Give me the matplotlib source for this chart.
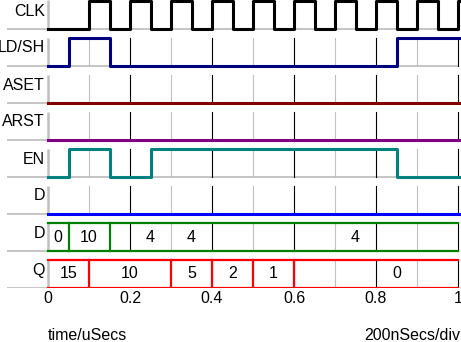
import matplotlib
matplotlib.use("Agg")
import matplotlib.pyplot as plt

plt.rcParams['font.family'] = ['Liberation Sans', 'DejaVu Sans']

# digital signals: transition times and the level after each transition
row_names = ["CLK", "LD/SH", "ASET", "ARST", "EN", "D", "D", "Q"]

clk_t = [0, 0.1, 0.15, 0.2, 0.25, 0.3, 0.35, 0.4, 0.45, 0.5, 0.55,
         0.6, 0.65, 0.7, 0.75, 0.8, 0.85, 0.9, 0.95, 1.0]
clk_v = [0, 1, 0, 1, 0, 1, 0, 1, 0, 1, 0, 1, 0, 1, 0, 1, 0, 1, 0, 1]
ldsh_t = [0, 0.05, 0.15, 0.85]
ldsh_v = [0, 1, 0, 1]
aset_t = [0]
aset_v = [0]
arst_t = [0]
arst_v = [0]
en_t = [0, 0.05, 0.15, 0.25, 0.85]
en_v = [0, 1, 0, 1, 0]
d_t = [0]
d_v = [0]

# bus signals: transition times, label text and label positions
dbus_edges = [0.05, 0.15]
dbus_labels = ["0", "10", "4", "4", "4"]
dbus_label_t = [0.025, 0.1, 0.25, 0.35, 0.75]
q_edges = [0.1, 0.3, 0.4, 0.5, 0.6]
q_labels = ["15", "10", "5", "2", "1", "0"]
q_label_t = [0.05, 0.2, 0.35, 0.45, 0.55, 0.85]

ticks = [0, 0.2, 0.4, 0.6, 0.8, 1.0]
tick_labels = ["0", "0.2", "0.4", "0.6", "0.8", "1"]

signals = [
    (clk_t, clk_v, "black"),
    (ldsh_t, ldsh_v, "#000080"),
    (aset_t, aset_v, "#800000"),
    (arst_t, arst_v, "#800080"),
    (en_t, en_v, "#008080"),
    (d_t, d_v, "#0000ff"),
]
buses = [
    (dbus_edges, dbus_labels, dbus_label_t, "#008000"),
    (q_edges, q_labels, q_label_t, "#ff0000"),
]

W, H = 461, 342
X0, X1 = 48, 458          # pixel positions of t=0 and t=1
BOTTOM = 288              # last baseline, also the axes bottom
PITCH = 37
HIGH = 28
FS = 11.5

fig = plt.figure(figsize=(W / 100, H / 100), dpi=100)
ax = fig.add_axes([0, 1 - BOTTOM / H, 1, BOTTOM / H])
scale = X1 - X0
ax.set_xlim(-X0 / scale, (W - X0) / scale)
ax.set_ylim(BOTTOM, 0)
for s in ax.spines.values():
    s.set_visible(False)
ax.set_yticks([])
ax.set_xticks(ticks)
ax.set_xticklabels(tick_labels, fontsize=FS)
ax.tick_params(axis='x', length=0, pad=2)

grid_t = [round(0.1 * k, 1) for k in range(1, 11)]
left = -41 / scale

for i, name in enumerate(row_names):
    base = BOTTOM - PITCH * (len(row_names) - 1 - i)
    top = base - HIGH
    # baseline and left axis segment
    ax.plot([left, 1.0], [base, base], color="#c0c0c0", lw=1.3, zorder=1,
            solid_capstyle='butt')
    ax.plot([0, 0], [0 if i == 0 else top, base], color="#c0c0c0", lw=1.8,
            zorder=1, solid_capstyle='butt')
    ax.text(-3 / scale, base - 18, name, ha='right', va='center', fontsize=FS)

    skip = []
    if i >= len(signals):
        skip = buses[i - len(signals)][2]
    if i > 0:
        for g in grid_t:
            if any(abs(g - s) < 0.03 for s in skip):
                continue
            major = abs(g * 5 - round(g * 5)) < 1e-6
            ax.plot([g, g], [top, base], color="black" if major else "#c0c0c0",
                    lw=0.8, zorder=1)

    if i < len(signals):
        t, v, col = signals[i]
        tt = list(t) + [1.005]
        vv = list(v) + [v[-1]]
        yy = [base - HIGH * x for x in vv]
        ax.step(tt, yy, where='post', color=col, lw=2.2, zorder=3)
    else:
        edges, labels, lt, col = buses[i - len(signals)]
        ax.plot([0, 1.0], [top, top], color=col, lw=1.6, zorder=3)
        ax.plot([0, 1.0], [base - 0.5, base - 0.5], color=col, lw=1.6, zorder=3)
        for e in edges:
            ax.plot([e, e], [top, base], color=col, lw=1.6, zorder=3)
        for lab, x in zip(labels, lt):
            ax.text(x, base - 14, lab, ha='center', va='center', fontsize=FS)

fig.text(X0 / W, 1 - 336 / H, "time/uSecs", ha='left', va='center', fontsize=FS)
fig.text(460 / W, 1 - 336 / H, "200nSecs/div", ha='right', va='center', fontsize=FS)

fig.savefig("out.png", dpi=100)
